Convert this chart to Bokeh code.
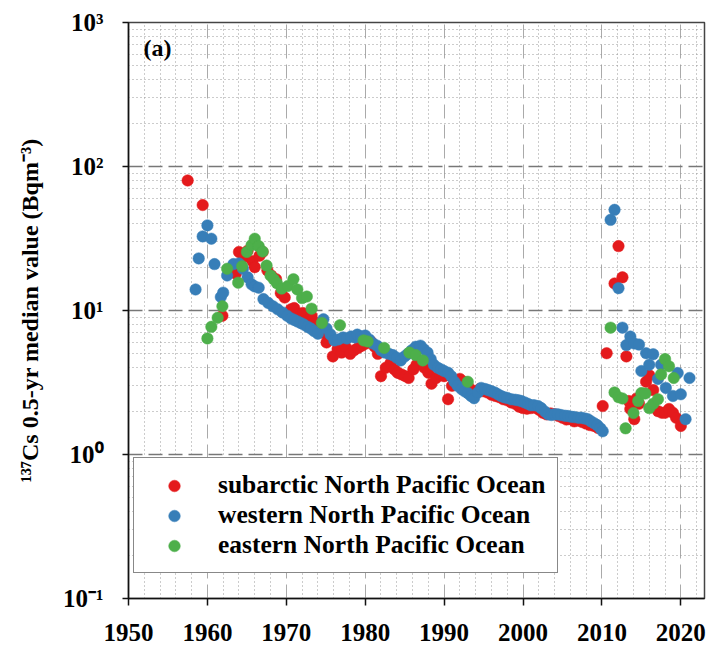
from bokeh.plotting import figure
from bokeh.models import FixedTicker, CustomJSTickFormatter, Range1d, Label
from bokeh.embed import file_html
from bokeh.resources import INLINE

# ---------------- data ----------------
x_ticks = [1950, 1960, 1970, 1980, 1990, 2000, 2010, 2020]
x_tick_labels = ["1950", "1960", "1970", "1980", "1990", "2000", "2010", "2020"]
y_ticks = [0.1, 1, 10, 100, 1000]
y_tick_labels = ["10\u207b\u00b9", "10\u2070", "10\u00b9", "10\u00b2", "10\u00b3"]

series_names = ["subarctic North Pacific Ocean",
                "western North Pacific Ocean",
                "eastern North Pacific Ocean"]
series_colors = ["#e41a1c", "#377eb8", "#4daf4a"]

sub_year = [1957.5, 1959.4, 1961.9, 1963.6, 1964.0, 1964.6, 1965.1, 1965.7, 1966.0, 1966.6,
            1967.0, 1967.6, 1968.1, 1968.7, 1969.3, 1969.8, 1970.6, 1971.0, 1971.6, 1972.1,
            1972.7, 1973.2, 1973.6, 1974.1, 1974.6, 1975.1, 1975.9, 1976.5, 1977.0, 1977.5,
            1978.1, 1978.6, 1979.1, 1979.6, 1980.1, 1980.7, 1981.2, 1981.6, 1982.0, 1982.6,
            1983.2, 1983.7, 1984.1, 1984.6, 1985.1, 1985.5, 1986.1, 1986.5, 1987.1, 1987.5,
            1988.0, 1988.4, 1989.0, 1989.5, 1990.0, 1990.5, 1991.0, 1991.5, 1992.0, 1992.5,
            1993.0, 1993.5, 1994.0, 1994.5, 1995.0, 1995.5, 1996.0, 1996.5, 1997.0, 1997.5,
            1998.0, 1998.5, 1999.0, 1999.5, 2000.0, 2000.5, 2001.0, 2001.5, 2002.0, 2002.5,
            2003.0, 2003.5, 2004.0, 2004.5, 2005.0, 2005.5, 2006.0, 2006.5, 2007.0, 2007.5,
            2008.0, 2008.5, 2009.0, 2009.5, 2010.1, 2010.6, 2011.6, 2012.1, 2012.6, 2013.1,
            2013.4, 2013.6, 2014.1, 2014.4, 2014.7, 2015.6, 2016.0, 2016.5, 2017.1, 2017.6,
            2018.0, 2018.5, 2019.0, 2019.4, 2020.0]
sub_val = [80, 54, 9.2, 18, 25.5, 23.5, 26, 22, 20, 24,
           25.5, 19, 17.5, 16.5, 13.2, 12.3, 10.2, 10.4, 9.5, 9.6,
           8.6, 9.2, 8.3, 7.6, 7.0, 6.0, 4.8, 5.4, 5.1, 5.6,
           5.0, 5.3, 5.5, 5.7, 5.9, 6.1, 5.6, 5.0, 3.5, 4.0,
           4.3, 3.9, 3.7, 3.6, 3.5, 3.4, 3.9, 4.2, 4.4, 4.0,
           3.7, 3.1, 3.4, 3.6, 3.5, 2.42, 3.0, 3.1, 3.35, 3.2,
           3.0, 2.8, 2.65, 2.85, 2.75, 2.7, 2.6, 2.55, 2.5, 2.42,
           2.38, 2.3, 2.25, 2.15, 2.1, 2.08, 2.1, 2.12, 2.05, 1.95,
           1.9, 1.93, 1.9, 1.85, 1.8, 1.75, 1.76, 1.7, 1.72, 1.68,
           1.64, 1.6, 1.58, 1.53, 2.17, 5.05, 15.4, 28, 17, 4.8,
           2.35, 2.07, 1.76, 2.45, 2.25, 3.2, 3.55, 2.8, 2.0, 1.95,
           1.95, 2.07, 1.95, 1.8, 1.58]

west_year = [1958.5, 1958.9, 1959.4, 1960.0, 1960.5, 1960.9, 1961.7, 1962.0, 1962.5, 1963.3,
             1964.0, 1964.5, 1965.1, 1965.6, 1966.0, 1966.5, 1967.1, 1967.7, 1968.3, 1968.9,
             1969.5, 1970.1, 1970.6, 1971.0, 1971.4, 1971.8, 1972.2, 1972.7, 1973.1, 1973.5,
             1974.0, 1974.7, 1975.1, 1975.6, 1976.1, 1976.6, 1977.2, 1977.7, 1978.2, 1978.7,
             1979.0, 1979.5, 1980.0, 1980.5, 1981.0, 1981.5, 1982.0, 1982.5, 1983.0, 1983.5,
             1984.0, 1984.5, 1985.0, 1985.4, 1985.9, 1986.4, 1987.0, 1987.4, 1987.9, 1988.3,
             1988.7, 1989.2, 1989.6, 1990.0, 1990.5, 1990.9, 1991.3, 1991.7, 1992.2, 1992.6,
             1993.0, 1993.4, 1993.8, 1994.3, 1994.7, 1995.2, 1995.6, 1996.0, 1996.4, 1996.8,
             1997.2, 1997.6, 1998.0, 1998.5, 1999.0, 1999.4, 1999.8, 2000.2, 2000.6, 2001.0,
             2001.4, 2001.9, 2002.3, 2002.8, 2003.2, 2003.6, 2004.0, 2004.4, 2004.8, 2005.3,
             2005.7, 2006.1, 2006.5, 2007.0, 2007.4, 2007.8, 2008.2, 2008.6, 2009.0, 2009.4,
             2009.8, 2010.1, 2011.1, 2011.6, 2012.1, 2012.6, 2013.1, 2013.6, 2014.1, 2014.7,
             2015.0, 2015.6, 2016.0, 2016.5, 2017.1, 2017.5, 2018.1, 2019.0, 2019.6, 2020.0,
             2020.6, 2021.1]
west_val = [14, 23, 32.7, 39, 31.5, 21, 12.4, 13.3, 17.5, 21,
            21.2, 19.5, 17, 15.2, 14.7, 14.4, 12, 11.3, 10.7, 10.2,
            9.7, 9.2, 8.8, 8.6, 8.4, 8.2, 8.0, 7.7, 7.5, 7.2,
            6.9, 8.7, 7.5, 6.8, 6.2, 6.3, 6.5, 6.4, 6.6, 6.5,
            6.8, 6.6, 6.7, 6.3, 5.9, 5.7, 5.3, 5.1, 5.0, 4.9,
            4.7, 4.5, 4.8, 5.0, 5.3, 5.6, 5.7, 5.4, 5.1, 4.6,
            4.2, 4.0, 3.9, 3.8, 3.7, 3.5, 3.2, 3.0, 2.85, 2.75,
            2.67, 2.55, 2.46, 2.7, 2.9, 2.85, 2.8, 2.75, 2.7, 2.62,
            2.55, 2.5, 2.47, 2.42, 2.4, 2.38, 2.35, 2.3, 2.25, 2.2,
            2.2, 2.17, 2.1, 1.98, 1.9, 1.88, 1.9, 1.9, 1.88, 1.86,
            1.85, 1.83, 1.82, 1.8, 1.8, 1.78, 1.76, 1.7, 1.65, 1.6,
            1.52, 1.45, 42.6, 50, 14.3, 7.6, 5.75, 6.6, 5.9, 5.8,
            3.8, 5.05, 4.2, 4.97, 3.35, 4.2, 2.9, 2.55, 3.68, 2.62,
            1.76, 3.4]

east_year = [1960.0, 1960.5, 1961.3, 1961.9, 1962.5, 1963.9, 1964.4, 1965.0, 1965.6, 1966.0,
             1966.5, 1967.0, 1967.5, 1968.0, 1968.4, 1968.8, 1969.4, 1970.2, 1970.9, 1971.4,
             1972.0, 1972.6, 1973.2, 1974.5, 1976.8, 1979.8, 1980.3, 1982.4, 1985.6, 1986.4,
             1987.3, 1993.0, 2011.1, 2011.6, 2012.1, 2012.6, 2013.0, 2014.0, 2014.6, 2015.0,
             2015.5, 2016.0, 2016.5, 2017.1, 2017.5, 2018.0, 2018.5, 2019.1]
east_val = [6.4, 7.7, 8.9, 10.7, 19.5, 15.6, 20.3, 25.5, 28.5, 31.5,
            28, 25.7, 20.5, 17.5, 16.5, 15.5, 14.2, 14.8, 16.5, 14,
            12.2, 12.5, 10.3, 8.2, 7.9, 6.2, 6.1, 5.5, 5.1, 4.9,
            4.5, 3.2, 7.6, 2.7, 2.5, 2.45, 1.52, 1.94, 2.35, 2.67,
            2.65, 2.1, 2.25, 2.42, 3.6, 4.6, 4.1, 3.4]

# ---------------- figure ----------------
FONT = "Liberation Serif"

p = figure(width=710, height=649, y_axis_type="log",
           x_range=Range1d(1950, 2023.0), y_range=Range1d(0.1, 1000),
           output_backend="svg", toolbar_location=None,
           min_border_left=128, min_border_right=6, min_border_top=22, min_border_bottom=51)
p.background_fill_color = "white"
p.border_fill_color = "white"
p.outline_line_color = "#444444"
p.outline_line_width = 1.5

# ticks
x_minor = [y for y in range(1950, 2024, 2) if y % 10 != 0]
p.xaxis.ticker = FixedTicker(ticks=x_ticks, minor_ticks=x_minor)
y_minor = [m * d for d in [0.1, 1, 10, 100] for m in range(2, 10)]
p.yaxis.ticker = FixedTicker(ticks=y_ticks, minor_ticks=y_minor)

p.xaxis.formatter = CustomJSTickFormatter(args=dict(tv=x_ticks, tl=x_tick_labels), code="""
for (let i = 0; i < tv.length; i++) { if (Math.abs(tick - tv[i]) < 1e-6) return tl[i]; }
return "";
""")
p.yaxis.formatter = CustomJSTickFormatter(args=dict(tv=y_ticks, tl=y_tick_labels), code="""
for (let i = 0; i < tv.length; i++) { if (Math.abs(Math.log10(tick) - Math.log10(tv[i])) < 1e-6) return tl[i]; }
return "";
""")

for ax in (p.xaxis[0], p.yaxis[0]):
    ax.axis_line_color = "#111111"
    ax.axis_line_width = 1.5
    ax.major_tick_line_color = "#111111"
    ax.major_tick_line_width = 1.5
    ax.major_tick_in = 0
    ax.minor_tick_line_color = None
    ax.major_label_text_font = FONT
    ax.major_label_text_font_style = "bold"
    ax.major_label_text_font_size = "25px"
    ax.major_label_text_color = "black"

p.xaxis.major_tick_out = 7
p.xaxis.major_label_standoff = 18
p.yaxis.major_tick_out = 6
p.yaxis.major_label_standoff = 19

p.yaxis.axis_label = "\u00b9\u00b3\u2077Cs 0.5-yr median value (Bqm\u207b\u00b3)"
p.yaxis.axis_label_text_font = FONT
p.yaxis.axis_label_text_font_style = "bold"
p.yaxis.axis_label_text_font_size = "24px"
p.yaxis.axis_label_text_color = "black"
p.yaxis.axis_label_standoff = 17

# grids
p.xgrid.grid_line_color = "#aaaaaa"
p.xgrid.grid_line_dash = "14 6"
p.xgrid.grid_line_width = 1
p.xgrid.minor_grid_line_color = "#999999"
p.xgrid.minor_grid_line_dash = "1 3"
p.xgrid.minor_grid_line_width = 1
p.ygrid.grid_line_color = "#777777"
p.ygrid.grid_line_dash = "14 6"
p.ygrid.grid_line_width = 1.3
p.ygrid.minor_grid_line_color = "#999999"
p.ygrid.minor_grid_line_dash = "1 3"
p.ygrid.minor_grid_line_width = 1

# points
all_series = [(sub_year, sub_val), (west_year, west_val), (east_year, east_val)]
for (xs, ys), name, col in zip(all_series, series_names, series_colors):
    p.scatter(xs, ys, size=11.5, fill_color=col, line_color=col, line_width=0.5,
              legend_label=name)

# panel tag
p.add_layout(Label(x=1951.9, y=660, text="(a)", text_font=FONT, text_font_style="bold",
                   text_font_size="24px", text_baseline="middle", text_color="black"))

# legend
lg = p.legend[0]
lg.location = (5, 25)
lg.label_text_font = FONT
lg.label_text_font_style = "bold"
lg.label_text_font_size = "25.5px"
lg.label_text_color = "black"
lg.glyph_width = 56
lg.glyph_height = 29
lg.label_height = 29
lg.label_standoff = 16
lg.spacing = 0
lg.padding = 12
lg.border_line_color = "#111111"
lg.border_line_width = 1.5
lg.background_fill_color = "white"
lg.background_fill_alpha = 1.0

open("out.html", "w").write(file_html(p, INLINE))
